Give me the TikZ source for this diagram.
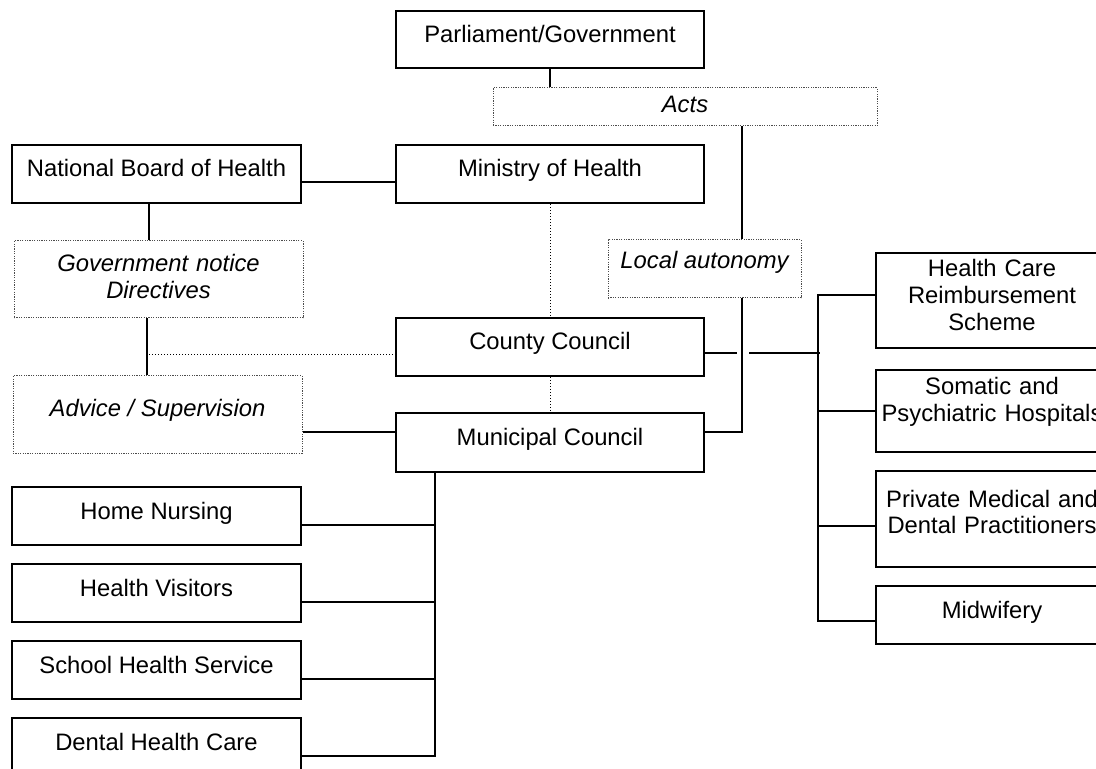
\documentclass[tikz,border=0pt]{standalone}
\usepackage{fontspec}
\setmainfont{Liberation Sans}
\usetikzlibrary{positioning,calc}

\begin{document}
\begin{tikzpicture}[x=0.5pt,y=-0.5pt,
  font=\fontsize{11.9}{13.3}\selectfont,
  box/.style={draw, line width=1.1pt, inner sep=0pt, text height=8pt, text depth=5pt, minimum width=154pt, minimum height=29pt},
  note/.style={box, draw=black!70, line width=0.5pt, dash pattern=on 0.6pt off 0.6pt, font=\fontsize{11.9}{13.3}\selectfont\itshape},
  unit/.style={box, minimum width=144.5pt},
  side/.style={box, minimum width=116pt, text width=114pt, align=center},
  link/.style={line width=1.1pt},
  wire/.style={line width=0.7pt},
  dotlink/.style={line width=0.5pt, dash pattern=on 0.6pt off 0.9pt}]
\useasboundingbox (0,0) rectangle (1096,769);
\clip (0,0) rectangle (1096,769);

\node[box, minimum height=28.5pt] (parl) at (550,39.5) {Parliament/Government};
\node[note, minimum width=192pt, minimum height=19pt, text depth=2pt] (acts) at (685,107) {Acts};
\node[box] (moh) at (550,174) {Ministry of Health};
\node[unit] (nbh) at (156.5,174) {National Board of Health};
\node[note, minimum width=144.5pt, minimum height=38.5pt, text width=140pt, align=center, text depth=15.5pt] (gov) at (158.5,279.5) {Government notice\\Directives};
\node[note, minimum width=144.5pt, minimum height=38.5pt, text depth=5.5pt] (advice) at (157.5,414.5) {Advice / Supervision};
\node[note, minimum width=96.5pt, text depth=8pt] (local) at (704.5,269) {Local autonomy};
\node[box] (county) at (550,347) {County Council};
\node[box, minimum height=29.5pt] (muni) at (550,442.5) {Municipal Council};

\node[side, minimum height=47.5pt, text depth=31.5pt] (hcrs) at (992,300.5) {Health Care\\Reimbursement\\Scheme};
\node[side, minimum height=41pt, text depth=24pt] (hosp) at (992,411) {Somatic and\\Psychiatric Hospitals};
\node[side, minimum height=48pt, text depth=20pt] (priv) at (992,519) {Private Medical and\\Dental Practitioners};
\node[side] (midw) at (992,615) {Midwifery};

\node[unit] (home) at (156.5,516) {Home Nursing};
\node[unit] (visit) at (156.5,593) {Health Visitors};
\node[unit] (school) at (156.5,670) {School Health Service};
\node[unit] (dental) at (156.5,747) {Dental Health Care};

% upper part
\draw[link] (parl.south) -- (parl.south |- acts.north);
\draw[link] ($(nbh.east)+(0,8)$) -- ($(moh.west)+(0,8)$);
\draw[link] ($(nbh.south)+(-7.5,0)$) -- ($(nbh.south |- gov.north)+(-7.5,0)$);
\coordinate (gbus) at ($(gov.south)+(-11.5,0)$);
\draw[link] (gbus) -- (gbus |- advice.north);
\draw[dotlink] ($(gbus |- county.west)+(2,8)$) -- ($(county.west)+(0,8)$);
\draw[link] ($(advice.east)+(0,17.5)$) -- ($(muni.west)+(0,-10.5)$);
\draw[dotlink] (moh.south) -- (county.north);
\draw[dotlink] (county.south) -- (muni.north);

\coordinate (abus) at ($(local.north)+(37.5,0)$);
\draw[link] (abus) -- (abus |- acts.south);
\draw[link] ($(local.south)+(37.5,0)$) |- ($(muni.east)+(0,-10.5)$);

% right bracket
\coordinate (rbus) at ($(hcrs.west)+(-57,-5.5)$);
\draw[wire] ($(hcrs.west)+(0,-5.5)$) -- (rbus) |- ($(midw.west)+(0,6)$);
\draw[wire] (hosp.west) -- (hosp.west -| rbus);
\draw[wire] ($(priv.west)+(0,7)$) -- ++(-57,0);
\draw[wire] ($(county.east)+(0,6)$) -- ++(32,0);
\draw[wire] ($(county.east)+(44,6)$) -- ++(71,0);

% left bracket
\coordinate (mbus) at ($(muni.south)+(-115,0)$);
\draw[wire] (mbus) |- ($(dental.east)+(0,9)$);
\foreach \n in {home,visit,school}
  \draw[wire] ($(\n.east)+(0,9)$) -- ++(134,0);
\end{tikzpicture}
\end{document}
